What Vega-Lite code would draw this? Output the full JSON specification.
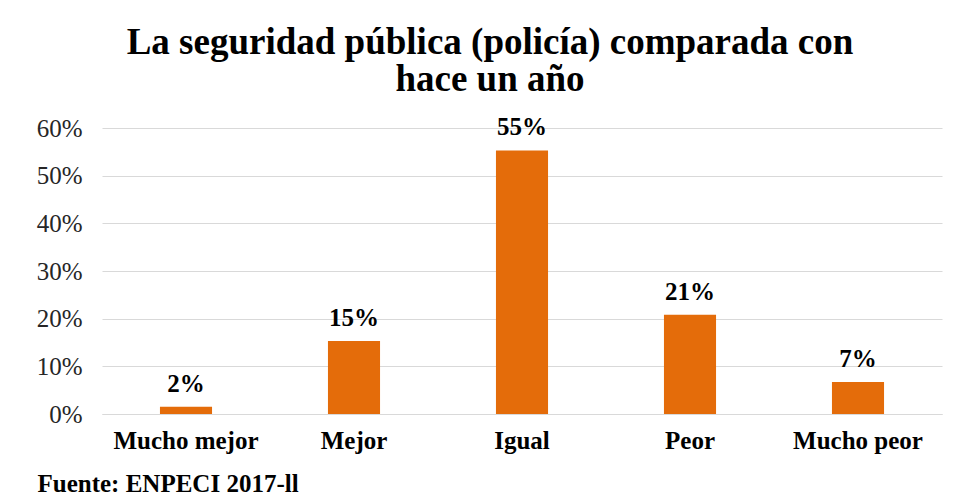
{
  "$schema": "https://vega.github.io/schema/vega-lite/v6.json",
  "width": 840,
  "height": 286,
  "autosize": "none",
  "padding": {"left": 102, "top": 128, "right": 15, "bottom": 85},
  "background": "white",
  "title": {
    "text": ["La seguridad pública (policía) comparada con", "hace un año"],
    "font": "Liberation Serif",
    "fontSize": 37,
    "fontWeight": "bold",
    "color": "#000000",
    "anchor": "middle",
    "dx": -32,
    "offset": 16,
    "lineHeight": 37
  },
  "data": {
    "values": [
      {"categoria": "Mucho mejor", "valor": 0.015, "etiqueta": "2%"},
      {"categoria": "Mejor", "valor": 0.153, "etiqueta": "15%"},
      {"categoria": "Igual", "valor": 0.553, "etiqueta": "55%"},
      {"categoria": "Peor", "valor": 0.208, "etiqueta": "21%"},
      {"categoria": "Mucho peor", "valor": 0.067, "etiqueta": "7%"}
    ]
  },
  "encoding": {
    "x": {
      "field": "categoria",
      "type": "nominal",
      "sort": null,
      "scale": {"paddingInner": 0.69, "paddingOuter": 0.345},
      "axis": {
        "title": "Fuente: ENPECI 2017-ll",
        "titleFont": "Liberation Serif",
        "titleFontSize": 25,
        "titleFontWeight": "bold",
        "titleColor": "#000000",
        "titleAnchor": "start",
        "titleAlign": "left",
        "titleBaseline": "middle",
        "titleX": -65,
        "titleY": 69,
        "labelAngle": 0,
        "labelFont": "Liberation Serif",
        "labelFontSize": 25,
        "labelFontWeight": "bold",
        "labelColor": "#000000",
        "labelPadding": 14,
        "labelOverlap": false,
        "ticks": false,
        "domain": true,
        "domainColor": "#d9d9d9",
        "grid": false
      }
    },
    "y": {
      "field": "valor",
      "type": "quantitative",
      "scale": {"domain": [0, 0.6]},
      "axis": {
        "title": null,
        "format": ".0%",
        "values": [0, 0.1, 0.2, 0.3, 0.4, 0.5, 0.6],
        "labelOverlap": false,
        "labelFont": "Liberation Serif",
        "labelFontSize": 25,
        "labelColor": "#262626",
        "labelPadding": 20,
        "ticks": false,
        "domain": false,
        "gridColor": "#d9d9d9",
        "gridWidth": 1
      }
    }
  },
  "layer": [
    {"mark": {"type": "bar", "color": "#E46C0A"}},
    {
      "mark": {
        "type": "text",
        "baseline": "bottom",
        "dy": -10,
        "font": "Liberation Serif",
        "fontSize": 25,
        "fontWeight": "bold",
        "color": "#000000"
      },
      "encoding": {"text": {"field": "etiqueta"}}
    }
  ],
  "config": {"view": {"stroke": null}}
}
